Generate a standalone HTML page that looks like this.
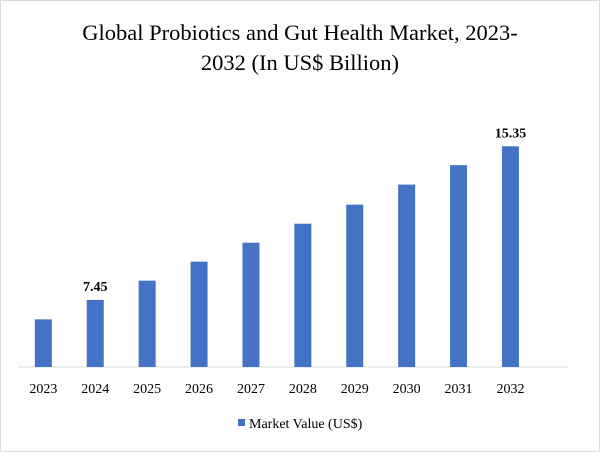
<!DOCTYPE html>
<html><head><meta charset="utf-8"><style>
body{margin:0;background:#fff;}
#wrap{position:relative;width:600px;height:452px;box-sizing:border-box;border:1px solid #d9d9d9;background:#fff;font-family:"Liberation Serif",serif;}
</style></head><body>
<div id="wrap">
<svg id="chart" width="600" height="452" style="position:absolute;left:-1px;top:-1px">
<text x="300" y="40" text-anchor="middle" font-size="22.5" fill="#000" font-family="Liberation Serif, serif">Global Probiotics and Gut Health Market, 2023-</text>
<text x="300" y="70" text-anchor="middle" font-size="22.5" fill="#000" font-family="Liberation Serif, serif">2032 (In US$ Billion)</text>
<line x1="18" y1="367" x2="568" y2="367" stroke="#d9d9d9" stroke-width="1"/>
<g id="bars"></g>
<rect x="238" y="419" width="7" height="7" fill="#4472c4"/>
<text x="249" y="428" font-size="14" fill="#000">Market Value (US$)</text>
</svg>
</div>
<script>
const categories=["2023","2024","2025","2026","2027","2028","2029","2030","2031","2032"];
const values=[6.45,7.45,8.44,9.42,10.39,11.37,12.35,13.38,14.38,15.35];
const labels=[null,"7.45",null,null,null,null,null,null,null,"15.35"];
const yMin=4,yMax=15.35;
const baseY=367,topY=146.3;
function y(v){return baseY-(v-yMin)/(yMax-yMin)*(baseY-topY);}
const x0=17.4,band=51.9,bw=17;
function xc(i){return x0+band*(i+0.5);}
const ns="http://www.w3.org/2000/svg",g=document.getElementById('bars');
categories.forEach((c,i)=>{
 const r=document.createElementNS(ns,'rect');
 r.setAttribute('x',xc(i)-bw/2);r.setAttribute('width',bw);
 r.setAttribute('y',y(values[i]));r.setAttribute('height',baseY-y(values[i]));
 r.setAttribute('fill','#4472c4');
 
 
 g.appendChild(r);
 const t=document.createElementNS(ns,'text');
 t.setAttribute('x',xc(i));t.setAttribute('y',393);t.setAttribute('text-anchor','middle');
 t.setAttribute('font-size','14');t.textContent=c;
 
 
 g.appendChild(t);
 if(labels[i]){
  const l=document.createElementNS(ns,'text');
  l.setAttribute('x',xc(i));l.setAttribute('y',y(values[i])-9);l.setAttribute('text-anchor','middle');
  l.setAttribute('font-size','14');l.setAttribute('font-weight','bold');l.textContent=labels[i];
  
  
  g.appendChild(l);
 }
});
</script>
</body></html>
